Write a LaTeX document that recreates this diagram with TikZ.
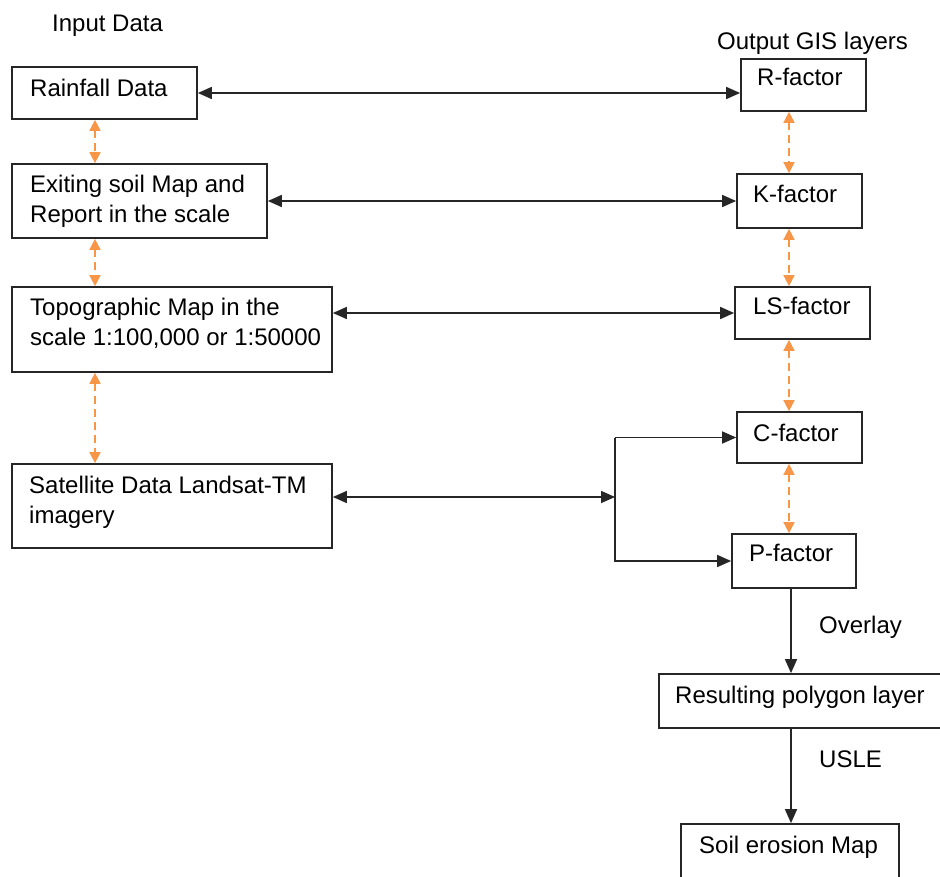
\documentclass[tikz,border=0pt]{standalone}
\usepackage{fontspec}
\setmainfont{Liberation Sans}
\usetikzlibrary{arrows.meta}
\definecolor{dashorange}{HTML}{F79646}
\tikzset{
  box/.style={draw=black!85, line width=1.7pt, rectangle, inner sep=0pt, fill=white},
  txt/.style={anchor=base west, inner sep=0pt, font=\fontsize{24}{29}\selectfont, text=black},
  arr/.style={line width=1.6pt, draw=black!85, -{Triangle[length=14pt,width=12pt]}},
  darr/.style={line width=1.6pt, draw=black!85, {Triangle[length=14pt,width=12pt]}-{Triangle[length=14pt,width=12pt]}},
  oarr/.style={line width=1.6pt, draw=dashorange, dash pattern=on 8pt off 5pt,
    {Triangle[length=11pt,width=11pt]}-{Triangle[length=11pt,width=11pt]}},
}
\begin{document}
\begin{tikzpicture}[x=1pt,y=-1pt]
\useasboundingbox (0,0) rectangle (940,877);
% boxes
\node[box, minimum width=185pt, minimum height=52pt] (rain) at (104.5,93) {};
\node[box, minimum width=255pt, minimum height=74pt] (soil) at (139.5,201) {};
\node[box, minimum width=320pt, minimum height=85pt] (topo) at (172,329.5) {};
\node[box, minimum width=320pt, minimum height=84pt] (sat) at (172,506) {};
\node[box, minimum width=125pt, minimum height=52pt] (rf) at (803.5,85) {};
\node[box, minimum width=125pt, minimum height=54pt] (kf) at (799.5,201) {};
\node[box, minimum width=135pt, minimum height=52pt] (lsf) at (802.5,313) {};
\node[box, minimum width=125pt, minimum height=51pt] (cf) at (799.5,437.5) {};
\node[box, minimum width=124pt, minimum height=54pt] (pf) at (794,561) {};
\node[box, minimum width=290pt, minimum height=54pt] (res) at (804,701) {};
\node[box, minimum width=218pt, minimum height=70pt] (ero) at (790,859) {};
% texts
\node[txt] (tin) at (52,32) {Input Data};
\node[txt] (tout) at (717,50) {Output GIS layers};
\node[txt] (train) at (30,97) {Rainfall Data};
\node[txt] (tsoilA) at (30,193) {Exiting soil Map and};
\node[txt] (tsoilB) at (30,223) {Report in the scale};
\node[txt] (ttopoA) at (30,315.5) {Topographic Map in the};
\node[txt] (ttopoB) at (30,346) {scale 1:100,000 or 1:50000};
\node[txt] (tsatA) at (29,493) {Satellite Data Landsat-TM};
\node[txt] (tsatB) at (29,523) {imagery};
\node[txt] (trf) at (757,86) {R-factor};
\node[txt] (tkf) at (753,203) {K-factor};
\node[txt] (tlsf) at (753,315) {LS-factor};
\node[txt] (tcf) at (753,441) {C-factor};
\node[txt] (tpf) at (749,561) {P-factor};
\node[txt] (tover) at (819,633) {Overlay};
\node[txt] (tres) at (675,703) {Resulting polygon layer};
\node[txt] (tusle) at (819,767) {USLE};
\node[txt] (tero) at (699,853) {Soil erosion Map};
% helper coordinates
\coordinate (jn) at (615,497);
\coordinate (lx) at (95,0);
\coordinate (rx) at (789,0);
\coordinate (bx) at (791,0);
% black connectors
\draw[darr] (rain.east) -- (rain.east -| rf.west);
\draw[darr] (soil.east) -- (soil.east -| kf.west);
\draw[darr] (topo.east |- lsf.west) -- (lsf.west);
\draw[darr] (sat.east |- jn) -- (jn);
\draw[arr] (jn |- cf.west) -- (cf.west);
\draw[arr] (jn |- cf.west) |- (pf.west);
\draw[arr] (pf.south -| bx) -- (res.north -| bx);
\draw[arr] (res.south -| bx) -- (ero.north -| bx);
% orange dashed connectors
\draw[oarr] (rain.south -| lx) -- (soil.north -| lx);
\draw[oarr] (soil.south -| lx) -- (topo.north -| lx);
\draw[oarr] (topo.south -| lx) -- (sat.north -| lx);
\draw[oarr] (rf.south -| rx) -- (kf.north -| rx);
\draw[oarr] (kf.south -| rx) -- (lsf.north -| rx);
\draw[oarr] (lsf.south -| rx) -- (cf.north -| rx);
\draw[oarr] (cf.south -| rx) -- (pf.north -| rx);
\end{tikzpicture}
\end{document}
